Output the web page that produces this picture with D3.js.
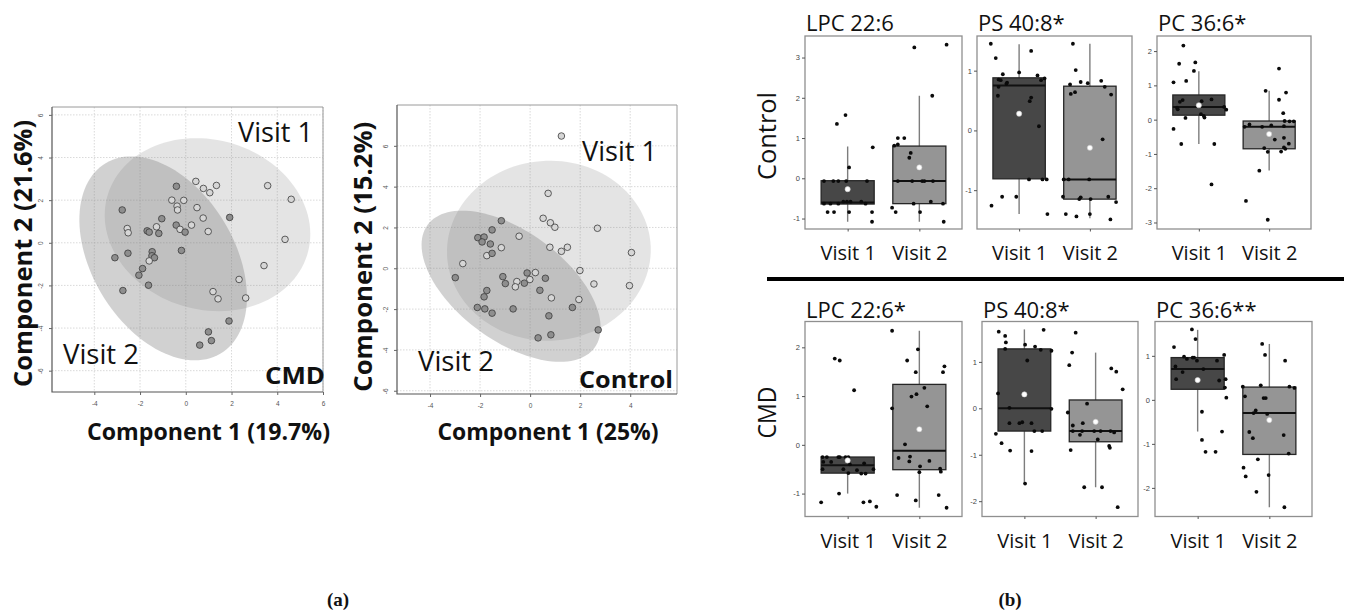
<!DOCTYPE html>
<html><head><meta charset="utf-8">
<script src="https://cdn.jsdelivr.net/npm/d3@7"></script>
<style>
body{margin:0;background:#fff}
svg{display:block}
text{font-family:"Open Sans","DejaVu Sans",sans-serif;fill:#111}
</style>
</head><body>
<svg id="chart" width="1346" height="614"></svg>
<script>
// ---------------- DATA ----------------
// (a) PLS-DA score plots: [component1, component2, visit]
const cmdPoints = [[0.44,2.88,1],[0.77,2.55,1],[1.34,2.69,1],[1.05,2.35,1],[-0.41,2.65,2],[-0.61,2.0,1],[-0.09,1.99,1],[-0.38,1.72,1],[-0.36,1.54,1],[0.49,1.65,1],[-2.78,1.54,2],[-1.05,1.13,2],[0.76,1.16,1],[1.92,1.19,2],[3.58,2.68,1],[4.61,2.04,1],[4.34,0.16,1],[3.42,-1.07,1],[-2.56,0.67,1],[-2.52,0.47,1],[-1.69,0.56,2],[-1.6,0.5,2],[-1.28,0.75,1],[-1.18,0.44,2],[-0.42,0.83,2],[-0.25,0.63,1],[-0.03,0.5,2],[0.25,0.83,1],[0.98,0.53,1],[-0.19,-0.36,2],[-2.53,-0.49,2],[-3.1,-0.7,2],[-1.47,-0.42,2],[-1.48,-0.61,2],[-1.37,-0.7,2],[-1.6,-0.85,1],[-1.89,-1.21,2],[-2.05,-1.52,2],[-1.63,-1.99,2],[-2.75,-2.24,2],[2.33,-1.72,1],[1.19,-2.29,1],[1.41,-2.63,1],[2.62,-2.59,1],[1.89,-3.67,2],[0.99,-4.18,2],[1.12,-4.59,2],[0.61,-4.8,2]];
const controlPoints = [[1.25,6.48,1],[0.72,3.67,1],[0.52,2.45,1],[0.81,2.23,1],[0.99,2.01,1],[2.69,1.96,1],[-1.15,2.33,2],[-0.44,1.57,1],[-1.52,1.88,2],[-2.09,1.5,2],[-1.84,1.53,2],[-1.92,1.29,2],[-1.59,1.19,2],[-1.15,1.01,1],[0.79,1.03,1],[1.25,0.83,1],[1.49,1.03,1],[4.05,0.77,1],[-1.73,0.62,1],[-1.52,0.73,2],[-2.69,0.23,1],[-2.99,-0.46,2],[-1.09,-0.41,2],[-0.99,-0.75,2],[-0.53,-0.65,1],[-0.59,-0.91,1],[-0.23,-0.73,2],[-0.12,-0.23,2],[-0.01,-0.55,1],[0.21,-0.21,1],[0.61,-0.49,2],[1.99,-0.11,1],[2.55,-0.77,1],[3.97,-0.85,1],[0.39,-1.08,2],[-1.73,-1.09,2],[-1.84,-1.4,2],[0.85,-1.45,1],[1.95,-1.53,1],[1.69,-1.92,2],[-2.11,-1.92,2],[-1.81,-1.99,2],[-1.52,-2.2,2],[-0.68,-1.99,2],[0.75,-2.33,2],[2.72,-3.02,2],[0.83,-3.26,2],[0.32,-3.41,2]];
// 95% ellipses: [visit, centre c1, centre c2, semi-axis a, semi-axis b, angle (deg)]
const cmdEllipses = [[1,0.95,0.85,4.59,3.95,-23.5],[2,-0.99,-0.73,5.13,3.16,-62.7]];
const controlEllipses = [[1,0.75,0.86,4.07,4.41,-4],[2,-0.76,-0.88,4.53,2.45,-46.8]];
const cmdTicksX = [-4,-2,0,2,4,6];
const cmdTicksY = [-6,-4,-2,0,2,4,6];
const controlTicksX = [-4,-2,0,2,4];
const controlTicksY = [-6,-4,-2,0,2,4,6];
const scatterTitles = ["CMD","Control"];
const scatterXLabels = ["Component 1 (19.7%)","Component 1 (25%)"];
const scatterYLabels = ["Component 2 (21.6%)","Component 2 (15.2%)"];
const visits = ["Visit 1","Visit 2"];

// (b) box plots
const lipidTitles = ["LPC 22:6","PS 40:8*","PC 36:6*","LPC 22:6*","PS 40:8*","PC 36:6**"];
const rowLabels = ["Control","CMD"];
// [q1, median, q3, whiskerLow, whiskerHigh, mean] for Visit 1, Visit 2
const boxStats = [
  [[-0.64,-0.60,-0.06,-1.08,0.79,-0.27],[-0.63,-0.07,0.80,-1.08,2.05,0.27]],
  [[-0.81,0.75,0.88,-1.40,1.44,0.28],[-1.15,-0.82,0.74,-1.47,1.45,-0.29]],
  [[0.13,0.37,0.72,-0.71,1.41,0.42],[-0.85,-0.21,-0.04,-1.48,0.84,-0.42]],
  [[-0.58,-0.42,-0.25,-1.00,-0.25,-0.32],[-0.51,-0.12,1.24,-1.29,2.34,0.32]],
  [[-0.49,0.00,1.28,-1.63,1.70,0.30],[-0.72,-0.49,0.18,-1.70,1.20,-0.29]],
  [[0.24,0.70,0.96,-0.72,1.59,0.45],[-1.24,-0.30,0.29,-2.44,1.27,-0.46]]
];
// jittered individual values: [visit position (1 or 2 + jitter), value]
const lpcControl = [[0.85,1.35],[0.97,1.57],[1.02,0.27],[1.35,0.77],[0.67,-0.07],[0.80,-0.07],[0.87,-0.07],[0.98,-0.07],[1.27,-0.07],[0.67,-0.63],[0.76,-0.63],[0.87,-0.63],[0.94,-0.58],[0.99,-0.58],[1.04,-0.58],[1.19,-0.58],[1.25,-0.63],[0.72,-0.84],[0.81,-0.84],[1.02,-0.84],[1.34,-0.84],[1.34,-1.08],
  [1.93,3.25],[2.38,3.32],[2.18,2.05],[1.70,1.0],[1.79,1.0],[1.65,0.81],[1.70,0.84],[1.88,0.63],[1.86,0.51],[1.70,-0.07],[1.90,-0.07],[2.04,-0.07],[2.07,-0.07],[2.19,-0.07],[1.92,-0.63],[2.16,-0.58],[2.33,-0.63],[1.62,-0.73],[1.67,-0.84],[2.01,-0.84],[2.34,-1.08]];
const psControl = [[0.60,1.45],[0.67,1.21],[1.17,1.33],[0.77,0.94],[1.0,0.97],[1.26,0.92],[1.36,0.87],[1.31,0.84],[0.71,0.85],[0.74,0.84],[0.83,0.80],[0.82,0.78],[0.71,0.73],[0.70,0.58],[1.17,0.55],[1.15,0.49],[1.28,0.07],[1.14,-0.82],[1.33,-0.82],[1.39,-0.82],[0.76,-1.11],[0.96,-1.11],[0.61,-1.26],[1.40,-1.40],
  [1.76,1.45],[1.80,1.01],[1.72,0.77],[1.87,0.81],[1.97,0.79],[2.16,0.83],[2.21,0.73],[1.73,0.61],[1.79,0.64],[2.30,0.60],[2.18,-0.15],[1.63,-0.82],[1.70,-0.82],[1.99,-0.82],[1.62,-1.11],[1.87,-1.12],[1.85,-1.15],[2.01,-1.15],[2.26,-1.11],[2.37,-1.20],[1.66,-1.40],[1.81,-1.44],[2.0,-1.40],[2.29,-1.49]];
const pcControl = [[0.78,2.16],[0.72,1.63],[0.95,1.67],[0.93,1.42],[0.64,1.09],[0.82,1.13],[1.18,0.59],[0.77,0.57],[0.73,0.52],[1.04,0.54],[0.69,0.35],[0.70,0.30],[1.36,0.37],[1.39,0.29],[1.03,0.16],[1.07,0.11],[1.08,0.06],[0.81,0.05],[0.64,-0.27],[0.75,-0.71],[1.22,-0.71],[1.18,-1.89],
  [2.14,1.49],[1.95,0.84],[2.24,0.79],[2.14,0.58],[2.20,0.19],[2.22,-0.04],[2.29,-0.05],[2.35,-0.05],[1.72,-0.14],[1.65,-0.21],[1.90,-0.21],[2.03,-0.17],[2.21,-0.19],[2.08,-0.58],[2.21,-0.53],[2.28,-0.70],[2.21,-0.81],[2.23,-0.85],[1.93,-0.83],[1.98,-0.94],[2.17,-0.93],[1.86,-1.49],[1.67,-2.37],[1.98,-2.92]];
const lpcCMD = [[0.82,1.77],[0.89,1.73],[1.09,1.12],[0.65,-0.25],[0.71,-0.25],[0.87,-0.25],[0.89,-0.25],[0.97,-0.25],[1.01,-0.25],[0.66,-0.35],[0.77,-0.35],[1.23,-0.38],[0.94,-0.50],[1.03,-0.40],[1.13,-0.52],[0.65,-0.50],[1.36,-0.50],[1.19,-0.59],[1.25,-0.59],[1.01,-0.58],[0.88,-1.0],[0.63,-1.18],[1.22,-1.18],[1.31,-1.16],[1.40,-1.27],
  [1.62,2.34],[1.98,1.96],[1.83,1.73],[1.95,1.49],[2.35,1.61],[2.33,1.49],[2.07,1.17],[1.96,1.04],[1.89,0.99],[2.11,0.79],[1.62,0.75],[1.80,0.01],[1.71,-0.27],[1.87,-0.24],[1.86,-0.34],[2.14,-0.33],[2.01,-0.44],[2.0,-0.56],[2.29,-0.49],[2.30,-0.55],[1.69,-1.03],[1.95,-1.14],[2.27,-1.03],[2.38,-1.29]];
const psCMD = [[0.64,1.65],[0.73,1.56],[0.74,1.42],[0.73,1.28],[1.27,1.69],[1.01,1.37],[1.15,1.33],[1.23,1.26],[1.38,1.24],[1.04,1.03],[0.63,0.32],[0.79,0.01],[1.38,-0.01],[0.79,-0.32],[0.93,-0.32],[0.97,-0.30],[1.10,-0.32],[1.14,-0.49],[1.25,-0.49],[0.60,-0.55],[0.68,-0.75],[0.80,-0.91],[1.10,-0.92],[1.01,-1.62],
  [1.72,1.63],[1.67,1.20],[1.63,0.93],[2.22,0.86],[2.29,0.79],[2.38,0.41],[1.88,0.10],[1.61,-0.09],[1.68,-0.37],[1.82,-0.32],[1.78,-0.57],[1.68,-0.49],[1.81,-0.49],[1.98,-0.49],[2.07,-0.49],[2.21,-0.49],[2.26,-0.52],[2.03,-0.67],[2.19,-0.81],[2.20,-0.85],[1.65,-0.90],[1.84,-1.70],[2.09,-1.70],[2.31,-2.13]];
const pcCMD = [[0.92,1.60],[0.97,1.38],[0.67,1.20],[0.81,0.98],[0.85,0.93],[0.93,0.96],[0.95,0.96],[0.99,0.89],[1.27,0.89],[1.37,1.02],[0.69,0.76],[1.08,0.70],[0.79,0.63],[0.70,0.47],[1.39,0.47],[1.30,0.44],[1.38,0.28],[1.40,0.05],[1.06,-0.27],[1.34,-0.72],[1.06,-0.91],[1.11,-1.18],[1.25,-1.18],
  [1.90,1.27],[1.94,1.02],[2.22,0.89],[1.63,0.30],[1.88,0.33],[2.28,0.30],[2.35,0.27],[1.66,0.08],[1.92,0.04],[1.95,0.04],[1.81,-0.24],[1.78,-0.30],[1.97,-0.32],[1.72,-0.73],[1.77,-0.87],[2.20,-0.80],[2.27,-1.22],[1.84,-1.35],[1.64,-1.54],[1.67,-1.74],[1.99,-1.71],[1.82,-2.09],[2.21,-2.44]];
const lipidPoints = [lpcControl, psControl, pcControl, lpcCMD, psCMD, pcCMD];
const lipidTicks = [[-1,0,1,2,3],[-1,0,1],[-3,-2,-1,0,1,2],[-1,0,1,2],[-2,-1,0,1],[-2,-1,0,1]];
const panelLabels = ["(a)","(b)"];

// ---------------- DRAWING ----------------
const svg = d3.select("#chart");

// ---- scatter panels ----
const scatterLayout = [
  {l:52,r:323,t:107,b:392,xd:[-5.85,6.0],yd:[-7.0,6.37],pts:cmdPoints,ell:cmdEllipses,xt:cmdTicksX,yt:cmdTicksY,
   v1:[238,142,75],v2:[63,364,76],ttl:[265,384,60],xl:[208.5,440,243],yl:[31.7,253.5,267]},
  {l:397,r:677,t:105,b:394,xd:[-5.32,5.87],yd:[-6.16,8.0],pts:controlPoints,ell:controlEllipses,xt:controlTicksX,yt:controlTicksY,
   v1:[582,161,75],v2:[418,371,76],ttl:[579,388,94],xl:[548,440,221],yl:[371.7,256.7,270]}
];

scatterLayout.forEach((L, i) => {
  const g = svg.append("g");
  const x = d3.scaleLinear().domain(L.xd).range([L.l, L.r]);
  const y = d3.scaleLinear().domain(L.yd).range([L.b, L.t]);
  g.append("rect").attr("x",L.l).attr("y",L.t).attr("width",L.r-L.l).attr("height",L.b-L.t).attr("fill","#fff");
  // grid
  g.selectAll(".gx").data(L.xt).join("line")
    .attr("x1",d=>x(d)).attr("x2",d=>x(d)).attr("y1",L.t).attr("y2",L.b)
    .attr("stroke","#cfcfcf").attr("stroke-width",0.8).attr("stroke-dasharray","1.5,1.5");
  g.selectAll(".gy").data(L.yt).join("line")
    .attr("y1",d=>y(d)).attr("y2",d=>y(d)).attr("x1",L.l).attr("x2",L.r)
    .attr("stroke","#cfcfcf").attr("stroke-width",0.8).attr("stroke-dasharray","1.5,1.5");
  // ellipses
  const line = d3.line().curve(d3.curveLinearClosed);
  L.ell.forEach(e => {
    const [vis, cx, cy, a, b, ang] = e;
    const phi = ang*Math.PI/180;
    const pts = d3.range(0, 360, 3).map(deg => {
      const t = deg*Math.PI/180, ex = a*Math.cos(t), ey = b*Math.sin(t);
      return [x(cx + ex*Math.cos(phi) - ey*Math.sin(phi)), y(cy + ex*Math.sin(phi) + ey*Math.cos(phi))];
    });
    g.append("path").attr("d", line(pts)).attr("fill","#808080").attr("fill-opacity", vis===1 ? 0.21 : 0.36);
  });
  // points
  g.selectAll(".pt").data(L.pts).join("circle")
    .attr("cx",d=>x(d[0])).attr("cy",d=>y(d[1])).attr("r",3.3)
    .attr("fill",d=>d[2]===1 ? "#d6d6d6" : "#8e8e8e").attr("stroke","#3a3a3a").attr("stroke-width",0.8);
  // frame
  g.append("path").attr("d",`M${L.l},${L.t}H${L.r}V${L.b}`).attr("fill","none").attr("stroke","#9a9a9a").attr("stroke-width",1);
  g.append("path").attr("d",`M${L.l},${L.t}V${L.b}H${L.r}`).attr("fill","none").attr("stroke","#555").attr("stroke-width",1.2);
  // axes
  const ax = g.append("g").attr("transform",`translate(0,${L.b})`)
    .call(d3.axisBottom(x).tickValues(L.xt).tickSize(3).tickPadding(6).tickFormat(d=>String(d)));
  const ay = g.append("g").attr("transform",`translate(${L.l},0)`)
    .call(d3.axisLeft(y).tickValues(L.yt).tickSize(3).tickFormat(d=>String(d)));
  [ax, ay].forEach(a => {
    a.select(".domain").remove();
    a.selectAll("line").attr("stroke","#666");
    a.selectAll("text").style("font-family","'Liberation Sans',sans-serif").style("font-size","6.5px").style("fill","#555");
  });
  ay.selectAll("text").attr("x",0).attr("dy","0.35em").attr("text-anchor","middle")
    .attr("transform","translate(-11,0) rotate(-90)");
  // labels
  const lab = (txt, xx, yy, len, size, bold, anchor) => g.append("text").text(txt)
    .attr("x",xx).attr("y",yy).attr("text-anchor",anchor||"start")
    .attr("textLength",len).attr("lengthAdjust","spacingAndGlyphs")
    .style("font-size",size+"px").style("font-weight",bold?"700":"400");
  lab(visits[0], L.v1[0], L.v1[1], L.v1[2], 26.5, false);
  lab(visits[1], L.v2[0], L.v2[1], L.v2[2], 26.5, false);
  lab(scatterTitles[i], L.ttl[0], L.ttl[1], L.ttl[2], 23.5, true);
  lab(scatterXLabels[i], L.xl[0], L.xl[1], L.xl[2], 23, true, "middle");
  g.append("text").text(scatterYLabels[i])
    .attr("transform",`translate(${L.yl[0]},${L.yl[1]}) rotate(-90)`)
    .attr("text-anchor","middle").attr("textLength",L.yl[2]).attr("lengthAdjust","spacingAndGlyphs")
    .style("font-size","24.5px").style("font-weight","700");
});

// ---- box plot panels ----
const boxLayout = [
  {l:805,r:962,t:36,b:229,d:[-1.26,3.535]},
  {l:977,r:1132,t:36,b:229,d:[-1.65,1.58]},
  {l:1157,r:1311,t:36,b:229,d:[-3.19,2.44]},
  {l:805,r:962,t:321.5,b:516.5,d:[-1.47,2.53]},
  {l:982,r:1138,t:321.5,b:516.5,d:[-2.33,1.87]},
  {l:1155,r:1312,t:321.5,b:516.5,d:[-2.65,1.78]}
];
const boxHalf = 0.37;
const boxFills = ["#474747","#959595"];

boxLayout.forEach((L, i) => {
  const g = svg.append("g");
  const x = d3.scaleLinear().domain([0.405, 2.595]).range([L.l, L.r]);
  const y = d3.scaleLinear().domain(L.d).range([L.b, L.t]);
  g.append("rect").attr("x",L.l).attr("y",L.t).attr("width",L.r-L.l).attr("height",L.b-L.t)
    .attr("fill","#fff").attr("stroke","#8f8f8f").attr("stroke-width",1.3);
  const ay = g.append("g").attr("transform",`translate(${L.l},0)`)
    .call(d3.axisLeft(y).tickValues(lipidTicks[i]).tickSize(3).tickPadding(2).tickFormat(d=>String(d)));
  const ax = g.append("g").attr("transform",`translate(0,${L.b})`)
    .call(d3.axisBottom(x).tickValues([1,2]).tickSize(2.5).tickFormat((d)=>visits[d-1]));
  [ax, ay].forEach(a => { a.select(".domain").remove(); a.selectAll("line").attr("stroke","#555"); });
  ay.selectAll("text").style("font-family","'Liberation Sans',sans-serif").style("font-size","7.5px").style("fill","#444");
  ax.selectAll("text").attr("dy",null).attr("y",31).style("font-size","20px").style("fill","#111")
    .style("font-family","'Open Sans',sans-serif");
  // boxes
  boxStats[i].forEach((s, k) => {
    const [q1, med, q3, wl, wh, mean] = s;
    const cx = x(k+1);
    g.append("line").attr("x1",cx).attr("x2",cx).attr("y1",y(wl)).attr("y2",y(wh))
      .attr("stroke","#7d7d7d").attr("stroke-width",1.4);
    g.append("rect").attr("x",x(k+1-boxHalf)).attr("width",x(k+1+boxHalf)-x(k+1-boxHalf))
      .attr("y",y(q3)).attr("height",y(q1)-y(q3))
      .attr("fill",boxFills[k]).attr("stroke","#262626").attr("stroke-width",1.3);
    g.append("line").attr("x1",x(k+1-boxHalf)).attr("x2",x(k+1+boxHalf)).attr("y1",y(med)).attr("y2",y(med))
      .attr("stroke","#111").attr("stroke-width",2);
  });
  g.selectAll(".pt").data(lipidPoints[i]).join("circle")
    .attr("cx",d=>x(d[0])).attr("cy",d=>y(d[1])).attr("r",1.9).attr("fill","#0a0a0a");
  g.selectAll(".mean").data(boxStats[i]).join("circle")
    .attr("cx",(d,k)=>x(k+1)).attr("cy",d=>y(d[5])).attr("r",2.6)
    .attr("fill","#fff").attr("stroke","#c8c8c8").attr("stroke-width",0.6);
  // title
  g.append("text").text(lipidTitles[i]).attr("x",L.l+1).attr("y", i<3 ? 30.5 : 318)
    .style("font-size","22px");
});

// row labels
[[rowLabels[0],776,136,88],[rowLabels[1],776,412.5,52]].forEach(r => {
  svg.append("text").text(r[0]).attr("transform",`translate(${r[1]},${r[2]}) rotate(-90)`)
    .attr("text-anchor","middle").attr("textLength",r[3]).attr("lengthAdjust","spacingAndGlyphs")
    .style("font-size","25px");
});
// separator
svg.append("line").attr("x1",767).attr("x2",1344).attr("y1",279).attr("y2",279)
  .attr("stroke","#000").attr("stroke-width",4);
// panel letters
[[panelLabels[0],338],[panelLabels[1],1010]].forEach(p => {
  svg.append("text").text(p[0]).attr("x",p[1]).attr("y",606).attr("text-anchor","middle")
    .style("font-family","'Liberation Serif','DejaVu Serif',serif").style("font-weight","700").style("font-size","19px");
});
</script>
</body></html>
